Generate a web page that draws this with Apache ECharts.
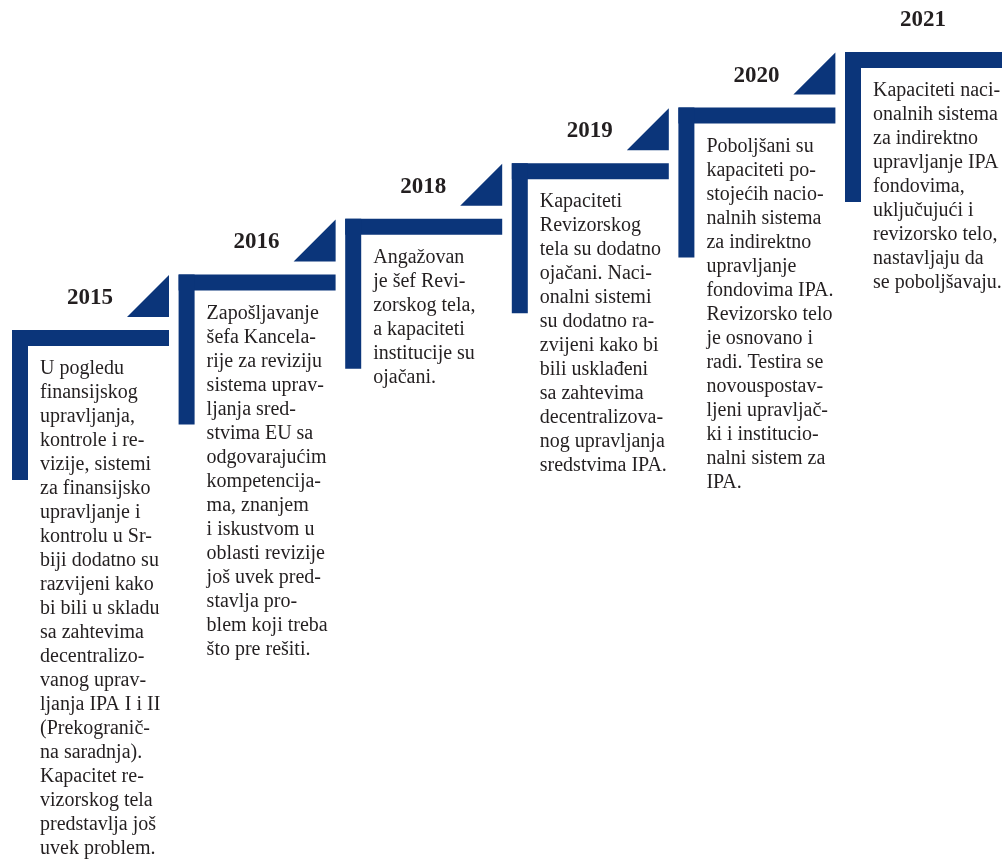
<!DOCTYPE html>
<html>
<head>
<meta charset="utf-8">
<style>
  html, body { margin: 0; padding: 0; background: #fff; }
  #main { width: 1004px; height: 859px; }
</style>
<script src="https://cdn.jsdelivr.net/npm/echarts@6/dist/echarts.min.js"></script>
</head>
<body>
<div id="main"></div>
<script>
  // godine i opisi po stepenicama
  var years = ['2015', '2016', '2018', '2019', '2020', '2021']
  var levels = [0, 1, 2, 3, 4, 5]
  var descriptions = [
    ['U pogledu', 'finansijskog', 'upravljanja,', 'kontrole i re-', 'vizije, sistemi', 'za finansijsko',
      'upravljanje i', 'kontrolu u Sr-', 'biji dodatno su', 'razvijeni kako', 'bi bili u skladu',
      'sa zahtevima', 'decentralizo-', 'vanog uprav-', 'ljanja IPA I i II', '(Prekograni\u010d-',
      'na saradnja).', 'Kapacitet re-', 'vizorskog tela', 'predstavlja jo\u0161', 'uvek problem.'],
    ['Zapo\u0161ljavanje', '\u0161efa Kancela-', 'rije za reviziju', 'sistema uprav-', 'ljanja sred-',
      'stvima EU sa', 'odgovaraju\u0107im', 'kompetencija-', 'ma, znanjem', 'i iskustvom u',
      'oblasti revizije', 'jo\u0161 uvek pred-', 'stavlja pro-', 'blem koji treba', '\u0161to pre re\u0161iti.'],
    ['Anga\u017eovan', 'je \u0161ef Revi-', 'zorskog tela,', 'a kapaciteti', 'institucije su', 'oja\u010dani.'],
    ['Kapaciteti', 'Revizorskog', 'tela su dodatno', 'oja\u010dani. Naci-', 'onalni sistemi',
      'su dodatno ra-', 'zvijeni kako bi', 'bili uskla\u0111eni', 'sa zahtevima', 'decentralizova-',
      'nog upravljanja', 'sredstvima IPA.'],
    ['Pobolj\u0161ani su', 'kapaciteti po-', 'stoje\u0107ih nacio-', 'nalnih sistema', 'za indirektno',
      'upravljanje', 'fondovima IPA.', 'Revizorsko telo', 'je osnovano i', 'radi. Testira se',
      'novouspostav-', 'ljeni upravlja\u010d-', 'ki i institucio-', 'nalni sistem za', 'IPA.'],
    ['Kapaciteti naci-', 'onalnih sistema', 'za indirektno', 'upravljanje IPA', 'fondovima,',
      'uklju\u010duju\u0107i i', 'revizorsko telo,', 'nastavljaju da', 'se pobolj\u0161avaju.']
  ]

  var navy = '#0b357a'
  var textColor = '#231f20'
  var serif = '"Liberation Serif", "DejaVu Serif", serif'

  var chart = echarts.init(document.getElementById('main'))

  function renderStep(params, api) {
    var i = params.dataIndex
    var p = api.coord([api.value(0), api.value(1)])
    var x = p[0], y = p[1]
    var children = [
      { type: 'rect', shape: { x: x, y: y, width: 157, height: 16 }, style: { fill: navy } },
      { type: 'rect', shape: { x: x, y: y, width: 16, height: 150 }, style: { fill: navy } },
      {
        type: 'text',
        style: {
          x: x + 78, y: y - 32, text: years[i],
          align: 'center', verticalAlign: 'middle',
          font: 'bold 23px ' + serif, fill: textColor
        }
      },
      {
        type: 'text',
        style: {
          x: x + 28, y: y + 27, text: descriptions[i].join('\n'),
          align: 'left', verticalAlign: 'top', lineHeight: 24,
          font: '20px ' + serif, fill: textColor
        }
      }
    ]
    // trougao koji vodi na sledeću stepenicu
    if (i < years.length - 1) {
      children.push({
        type: 'polygon',
        shape: { points: [[x + 115, y - 13], [x + 157, y - 55], [x + 157, y - 13]] },
        style: { fill: navy }
      })
    }
    return { type: 'group', children: children }
  }

  chart.setOption({
    animation: false,
    grid: { left: 12, right: 159, top: 52, bottom: 529 },
    xAxis: { type: 'value', min: 0, max: 5, show: false },
    yAxis: { type: 'value', min: 0, max: 5, show: false },
    series: [{
      type: 'custom',
      clip: false,
      renderItem: renderStep,
      data: levels.map(function (l) { return [l, l] })
    }]
  })
</script>
</body>
</html>
